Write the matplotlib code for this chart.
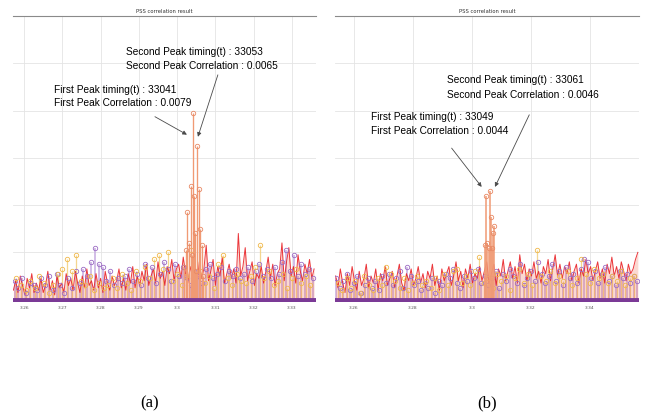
import matplotlib.pyplot as plt
import numpy as np

# PSS correlation result, two runs. Heights are in units of 1e-4, timing in samples.

# ---- run (a) ----
purple_t_a = np.arange(32575, 33360, 10)
purple_a = [8, 5, 9, 3, 7, 6, 4, 9, 6, 10,
            4, 11, 6, 3, 9, 5, 12, 7, 13, 10,
            16, 22, 15, 14, 8, 12, 6, 9, 7, 10,
            13, 8, 11, 6, 15, 9, 14, 7, 11, 16,
            13, 8, 15, 10, 14, 9, 6, 12, 10, 7,
            13, 15, 9, 11, 14, 8, 12, 10, 13, 9,
            11, 14, 8, 12, 15, 10, 13, 9, 14, 11,
            16, 21, 12, 19, 10, 15, 11, 13, 9]

yellow_t_a = np.arange(32580, 33350, 12)
yellow_a = [9, 6, 4, 8, 5, 10, 7, 3, 6, 11,
            13, 17, 12, 19, 8, 6, 10, 4, 7, 5,
            6, 9, 5, 11, 7, 4, 12, 8, 14, 9,
            17, 19, 13, 20, 8, 11, 6, 10, 21, 9,
            12, 7, 10, 5, 15, 19, 9, 6, 11, 8,
            7, 10, 14, 23, 9, 12, 6, 8, 11, 5,
            9, 13, 7, 10, 6]

red_t_a = np.arange(32572, 33360, 6)
red_a = [4, 8, 3, 10, 6, 2, 9, 5, 11, 3, 7, 4,
         9, 3, 6, 12, 4, 8, 2, 10, 5, 7, 3, 11,
         6, 9, 4, 12, 7, 3, 10, 5, 13, 6, 8, 4,
         11, 5, 9, 3, 12, 7, 4, 10, 6, 8, 13, 5,
         9, 4, 11, 7, 14, 5, 10, 6, 12, 8, 15, 6,
         10, 13, 7, 16, 9, 12, 6, 14, 11, 17, 8, 13,
         15, 9, 18, 11, 7, 14, 10, 12, 6, 16, 9, 13,
         23, 8, 12, 17, 6, 14, 10, 18, 7, 11, 15, 9,
         13, 7, 28, 10, 14, 22, 8, 12, 16, 6, 11, 9,
         14, 7, 12, 18, 9, 15, 6, 11, 13, 24, 8, 16,
         22, 10, 14, 7, 19, 12, 8, 15, 11, 17, 9, 13]

peak_t_a = [33018, 33022, 33027, 33032, 33035, 33038, 33041, 33044,
            33047, 33050, 33053, 33056, 33060, 33064, 33068]
peak_a = [14, 21, 37, 24, 48, 19, 79, 44, 28, 12, 65, 47, 30, 23, 10]

# ---- run (b) ----
purple_t_b = np.arange(32540, 33561, 12)
purple_b = [9, 5, 8, 11, 4, 7, 10, 3, 6, 9,
            5, 8, 4, 10, 7, 11, 6, 9, 12, 5,
            14, 10, 6, 8, 4, 7, 5, 9, 3, 8,
            6, 11, 9, 13, 7, 5, 10, 8, 12, 9,
            13, 7, 10, 6, 9, 12, 5, 11, 8, 13,
            10, 7, 15, 6, 9, 12, 8, 16, 11, 7,
            10, 15, 8, 12, 6, 14, 9, 11, 7, 13,
            17, 16, 9, 12, 7, 11, 14, 8, 10, 6,
            12, 9, 11, 7, 10, 8]

yellow_t_b = np.arange(32545, 33551, 15)
yellow_b = [7, 4, 9, 5, 8, 3, 10, 6, 4, 9,
            6, 14, 11, 8, 5, 9, 4, 7, 10, 6,
            8, 5, 9, 4, 11, 6, 12, 13, 7, 10,
            6, 12, 18, 7, 9, 5, 11, 8, 10, 4,
            9, 13, 7, 11, 6, 21, 10, 8, 12, 7,
            10, 8, 12, 6, 9, 17, 11, 7, 13, 9,
            11, 7, 10, 8, 12, 6, 9, 10]

red_t_b = np.arange(32538, 33563, 8)
red_b = [10, 5, 13, 7, 3, 11, 6, 14, 8, 4, 12, 6,
         9, 15, 5, 10, 7, 13, 4, 11, 8, 14, 6, 9,
         12, 5, 10, 15, 7, 4, 11, 8, 13, 6, 9, 14,
         7, 11, 5, 12, 9, 15, 6, 10, 4, 13, 8, 11,
         14, 6, 10, 16, 8, 12, 5, 13, 9, 15, 7, 11,
         9, 14, 8, 12, 16, 7, 11, 15, 6, 13, 10, 17,
         8, 12, 16, 9, 14, 7, 19, 11, 15, 8, 13, 10,
         16, 9, 12, 7, 14, 11, 17, 8, 13, 19, 10, 15,
         9, 14, 11, 16, 8, 12, 15, 7, 13, 10, 17, 11,
         14, 8, 12, 16, 9, 13, 7, 15, 11, 18, 10, 14,
         9, 16, 12, 8, 15, 11, 13, 17, 20]

peak_t_b = [33044, 33049, 33052, 33058, 33061, 33064, 33069, 33072, 33076]
peak_b = [23, 44, 24, 22, 46, 35, 22, 28, 31]

scale = 1e-4


def draw(ax, pt, pv, yt, yv, rt, rv, kt, kv, xlim, ticks, labels, peak_lw):
    px = np.array(pt) / 1e4
    py = np.array(pv) * scale
    yx = np.array(yt) / 1e4
    yy = np.array(yv) * scale
    rx = np.array(rt) / 1e4
    ry = np.array(rv) * scale
    ax.vlines(px, 0, py, color='#c6abe0', lw=1.3, alpha=0.85, zorder=2)
    ax.vlines(yx, 0, yy, color='#f3cf7a', lw=0.9, alpha=0.85, zorder=2)
    ax.fill_between(rx, 0, ry, color='#f26a4f', alpha=0.25, lw=0, zorder=3)
    ax.plot(rx, ry, color='#e8151b', lw=0.7, alpha=0.85, zorder=3)
    ax.plot(px, py, 'o', ms=3.2, mfc='none', mec='#9c6cc4', mew=0.6, zorder=4)
    ax.plot(yx, yy, 'o', ms=3.2, mfc='none', mec='#f0b84a', mew=0.6, zorder=4)
    kx = np.array(kt) / 1e4
    ky = np.array(kv) * scale
    ax.vlines(kx, 0, ky, color='#f09a74', lw=peak_lw, zorder=5)
    ax.plot(kx, ky, 'o', ms=3.2, mfc='none', mec='#e88a66', mew=0.6, zorder=6)
    ax.axhline(0, color='#7b3a96', lw=3.5, zorder=7)
    ax.set_xlim(xlim)
    ax.set_ylim(-0.0001, 0.012)
    ax.set_xticks(ticks)
    ax.set_xticklabels(labels)
    ax.set_yticks(np.arange(0, 0.0121, 0.002))
    ax.set_yticklabels([])
    ax.tick_params(length=0, labelsize=3.2, labelcolor='#555555', pad=3)
    ax.grid(True, color='#e4e4e4', lw=0.6)
    ax.set_axisbelow(True)
    for s in ['left', 'right', 'bottom']:
        ax.spines[s].set_visible(False)
    ax.spines['top'].set_color('#8a8a8a')
    ax.spines['top'].set_linewidth(0.8)
    ax.set_title('PSS correlation result', fontsize=3.8, pad=2.5, color='#333333')


def note(ax, x, y, lines, gap):
    ax.text(x, y, lines[0], fontsize=7.3, family='Liberation Sans', va='center', zorder=9)
    ax.text(x, y - gap, lines[1], fontsize=7.3, family='Liberation Sans', va='center', zorder=9)


def arrow(ax, start, end):
    ax.annotate('', xy=end, xytext=start, zorder=9,
                arrowprops=dict(arrowstyle='-|>', color='#4a4a4a', lw=0.6,
                                mutation_scale=6, shrinkA=0, shrinkB=0))


fig = plt.figure(figsize=(6.45, 4.19), dpi=100)
ax_a = fig.add_axes([13 / 645, 1 - 302 / 419, 303 / 645, 286 / 419])
ax_b = fig.add_axes([335 / 645, 1 - 302 / 419, 304 / 645, 286 / 419])

draw(ax_a, purple_t_a, purple_a, yellow_t_a, yellow_a, red_t_a, red_a,
     peak_t_a, peak_a, (3.2571, 3.3363),
     [3.26, 3.27, 3.28, 3.29, 3.30, 3.31, 3.32, 3.33],
     ['3.26', '3.27', '3.28', '3.29', '3.3', '3.31', '3.32', '3.33'], 0.95)
draw(ax_b, purple_t_b, purple_b, yellow_t_b, yellow_b, red_t_b, red_b,
     peak_t_b, peak_b, (3.2536, 3.3566),
     [3.26, 3.28, 3.30, 3.32, 3.34],
     ['3.26', '3.28', '3.3', '3.32', '3.34'], 1.1)

note(ax_a, 3.2866, 0.01049, ['Second Peak timing(t) : 33053',
                             'Second Peak Correlation : 0.0065'], 0.0006)
note(ax_a, 3.2678, 0.00888, ['First Peak timing(t) : 33041',
                             'First Peak Correlation : 0.0079'], 0.00055)
arrow(ax_a, (3.2942, 0.00774), (3.30256, 0.00698))
arrow(ax_a, (3.31065, 0.00951), (3.30543, 0.00689))

note(ax_b, 3.29153, 0.0093, ['Second Peak timing(t) : 33061',
                             'Second Peak Correlation : 0.0046'], 0.00065)
note(ax_b, 3.26576, 0.00773, ['First Peak timing(t) : 33049',
                              'First Peak Correlation : 0.0044'], 0.0006)
arrow(ax_b, (3.29312, 0.00641), (3.30329, 0.00477))
arrow(ax_b, (3.31942, 0.00782), (3.30780, 0.00477))

fig.text(150 / 645, 1 - 403 / 419, '(a)', fontsize=12, family='Liberation Serif',
         ha='center', va='center')
fig.text(487 / 645, 1 - 403 / 419, '(b)', fontsize=12, family='Liberation Serif',
         ha='center', va='center')

fig.savefig('out.png', dpi=100, facecolor='white')
